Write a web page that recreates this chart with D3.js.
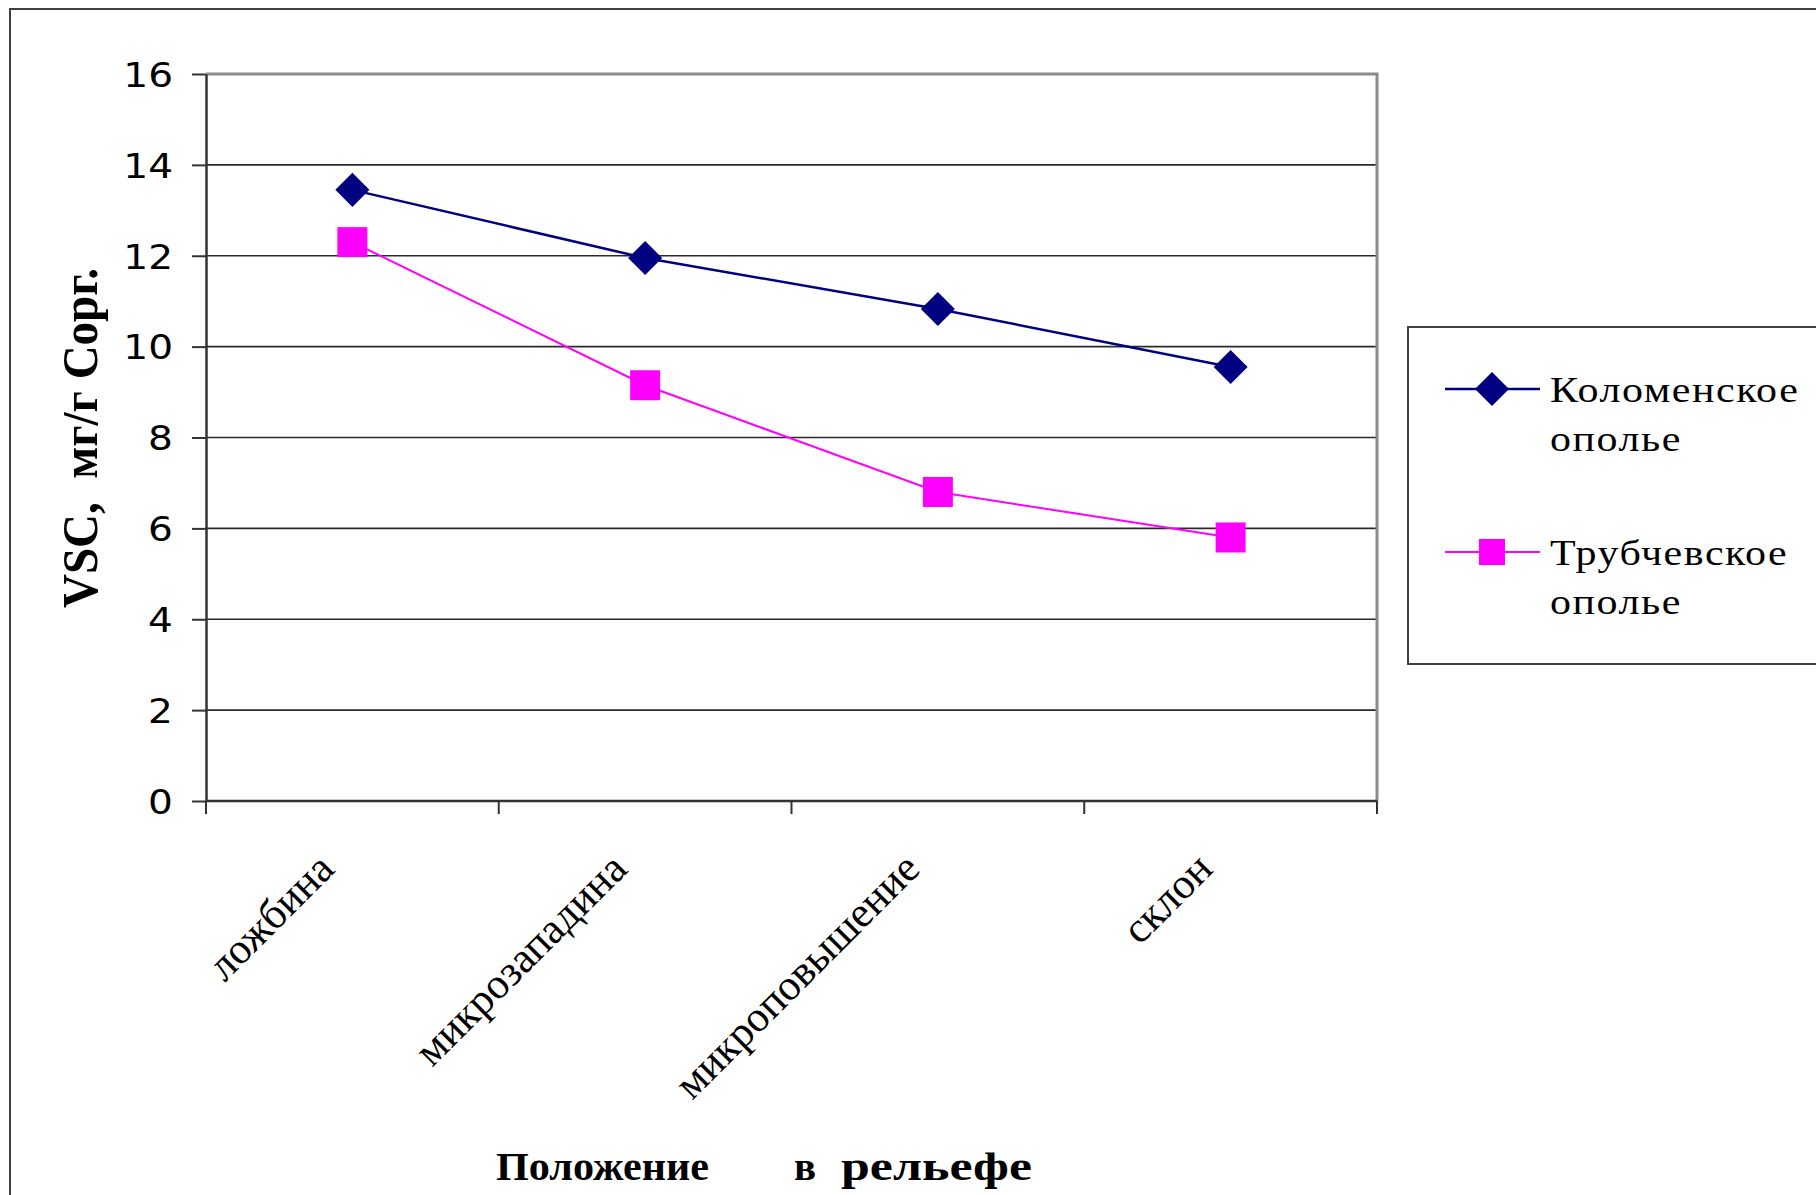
<!DOCTYPE html>
<html>
<head>
<meta charset="utf-8">
<script src="https://cdn.jsdelivr.net/npm/d3@7"></script>
<style>
  html, body { margin: 0; padding: 0; background: #fff; }
  svg { display: block; }
  text { white-space: pre; }
</style>
</head>
<body>
<div id="chart"></div>
<script>
// data
const categories = ["ложбина", "микрозападина", "микроповышение", "склон"]
const kolomenskoe = [13.45, 11.95, 10.83, 9.55]
const trubchevskoe = [12.3, 9.15, 6.8, 5.8]
const yTicks = [0, 2, 4, 6, 8, 10, 12, 14, 16]
const legendLabels = [["Коломенское", "ополье"], ["Трубчевское", "ополье"]]
const yTitle = "VSC,  мг/г Сорг."
const xTitle = ["Положение", "в", "рельефе"]

const W = 1816, H = 1195
const plot = { left: 206, right: 1377, top: 74, bottom: 801 }
const serif = "'Liberation Serif', 'Times New Roman', serif"
const sans = "'DejaVu Sans', Verdana, sans-serif"
const stretch = 1.2   // the original picture is a bit wider than tall

const series = [
  { name: legendLabels[0], values: kolomenskoe, color: '#000080', marker: 'diamond', width: 2.5 },
  { name: legendLabels[1], values: trubchevskoe, color: '#ff00ff', marker: 'square', width: 2 }
]

let svg = d3.select('#chart')
  .append('svg')
  .attr('width', W)
  .attr('height', H)

// outer chart border (runs off the right and bottom edges)
svg.append('rect')
  .attr('x', 10).attr('y', 9)
  .attr('width', 2000).attr('height', 1400)
  .attr('fill', 'none')
  .attr('stroke', '#404040')
  .attr('stroke-width', 2)

/* scales */
let x = d3.scaleBand()
  .domain(categories)
  .range([plot.left, plot.right])

let y = d3.scaleLinear()
  .domain([0, 16])
  .range([plot.bottom, plot.top])

// gridlines
svg.append('g')
  .selectAll('line')
  .data(yTicks.filter(d => d > 0 && d < 16))
  .enter()
  .append('line')
  .attr('x1', plot.left).attr('x2', plot.right)
  .attr('y1', d => y(d)).attr('y2', d => y(d))
  .attr('stroke', '#2b2b2b')
  .attr('stroke-width', 1.6)

// grey frame on top and right
svg.append('path')
  .attr('d', `M${plot.left},${y(16)}H${plot.right}V${plot.bottom}`)
  .attr('fill', 'none')
  .attr('stroke', '#8c8c8c')
  .attr('stroke-width', 3)

/* Y axis */
let yAxis = d3.axisLeft(y)
  .tickValues(yTicks)
  .tickSize(14)
  .tickSizeOuter(0)
  .tickPadding(19)

let gy = svg.append('g')
  .attr('transform', `translate(${plot.left},0)`)
  .call(yAxis)
gy.select('.domain').attr('stroke', '#333').attr('stroke-width', 2.5)
gy.selectAll('.tick line').attr('stroke', '#333').attr('stroke-width', 2)
gy.selectAll('.tick text')
  .attr('x', 0)
  .attr('dy', '0.36em')
  .attr('transform', `translate(-33,0) scale(1.15,1)`)
  .style('font-family', sans)
  .style('font-size', '34px')
  .style('fill', '#000')

/* X axis: ticks sit between categories */
let boundaries = categories.map(c => x(c)).concat([plot.right])
svg.append('line')
  .attr('x1', plot.left).attr('x2', plot.right)
  .attr('y1', plot.bottom).attr('y2', plot.bottom)
  .attr('stroke', '#333').attr('stroke-width', 2.5)
svg.append('g')
  .selectAll('line')
  .data(boundaries)
  .enter()
  .append('line')
  .attr('x1', d => d).attr('x2', d => d)
  .attr('y1', plot.bottom).attr('y2', plot.bottom + 13)
  .attr('stroke', '#333').attr('stroke-width', 2)

// rotated category labels
svg.append('g')
  .selectAll('text')
  .data(categories)
  .enter()
  .append('text')
  .attr('transform', d => `translate(${x(d) + x.bandwidth() / 2 - 16}, ${plot.bottom + 70}) rotate(-45)`)
  .style('text-anchor', 'end')
  .style('font-family', serif)
  .style('font-size', '43px')
  .style('fill', '#000')
  .text(d => d)

/* lines and markers */
let line = d3.line()
  .x((d, i) => x(categories[i]) + x.bandwidth() / 2)
  .y(d => y(d))

let diamond = d3.symbol().type(d3.symbolSquare).size(580)
let square = d3.symbol().type(d3.symbolSquare).size(900)

series.forEach(s => {
  svg.append('path')
    .datum(s.values)
    .attr('d', line)
    .attr('fill', 'none')
    .attr('stroke', s.color)
    .attr('stroke-width', s.width)

  svg.append('g')
    .selectAll('path')
    .data(s.values)
    .enter()
    .append('path')
    .attr('d', s.marker === 'diamond' ? diamond : square)
    .attr('transform', (d, i) => `translate(${x(categories[i]) + x.bandwidth() / 2}, ${y(d)})` +
      (s.marker === 'diamond' ? ' rotate(45)' : ''))
    .attr('fill', s.color)
})

/* legend */
let legend = svg.append('g')
legend.append('rect')
  .attr('x', 1408).attr('y', 327)
  .attr('width', 500).attr('height', 337)
  .attr('fill', '#fff')
  .attr('stroke', '#404040')
  .attr('stroke-width', 2)

series.forEach((s, i) => {
  let cy = 389 + i * 163
  legend.append('line')
    .attr('x1', 1445).attr('x2', 1540)
    .attr('y1', cy).attr('y2', cy)
    .attr('stroke', s.color)
    .attr('stroke-width', s.width)
  legend.append('path')
    .attr('d', s.marker === 'diamond' ? diamond : d3.symbol().type(d3.symbolSquare).size(680))
    .attr('transform', `translate(1492, ${cy})` + (s.marker === 'diamond' ? ' rotate(45)' : ''))
    .attr('fill', s.color)
  s.name.forEach((t, j) => {
    legend.append('text')
      .attr('transform', `translate(1550, ${cy + 13 + j * 49}) scale(${stretch},1)`)
      .style('font-family', serif)
      .style('font-size', '35px')
      .style('letter-spacing', '1.3px')
      .style('fill', '#000')
      .text(t)
  })
})

/* axis titles */
svg.append('text')
  .attr('transform', `translate(97, 438) rotate(-90) scale(1,${stretch})`)
  .attr('textLength', 340)
  .attr('lengthAdjust', 'spacingAndGlyphs')
  .style('text-anchor', 'middle')
  .style('font-family', serif)
  .style('font-weight', 'bold')
  .style('font-size', '43px')
  .style('fill', '#000')
  .text(yTitle)

let xt = svg.append('text')
  .attr('y', 1180)
  .style('font-family', serif)
  .style('font-weight', 'bold')
  .style('font-size', '40px')
  .style('fill', '#000')
const xTitleX = [496, 794, 841], xTitleLen = [213, 22, 191]
xTitle.forEach((w, i) => {
  xt.append('tspan')
    .attr('x', xTitleX[i])
    .attr('textLength', xTitleLen[i])
    .attr('lengthAdjust', 'spacingAndGlyphs')
    .text(w)
})
</script>
</body>
</html>
